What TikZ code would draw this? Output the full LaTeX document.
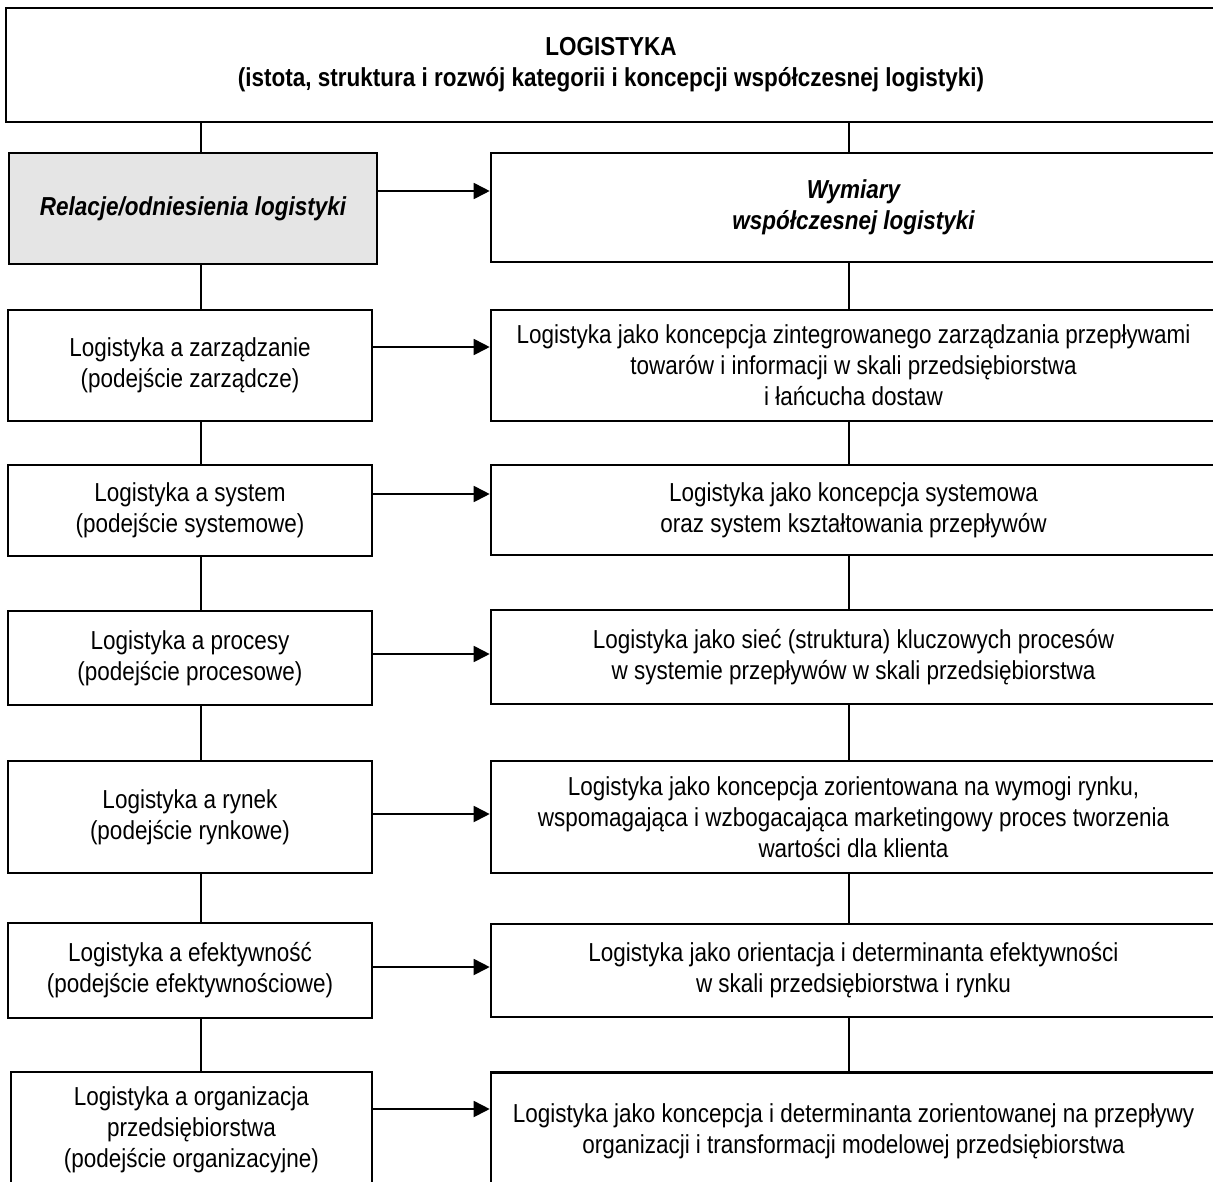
\documentclass[tikz,border=0pt]{standalone}
\usepackage{fontspec}
\setmainfont{Liberation Sans}[FakeStretch=0.865]
\usetikzlibrary{arrows.meta}

\begin{document}
\begin{tikzpicture}[x=1pt,y=-1pt,
    box/.style={draw,line width=2.6pt,align=center,inner sep=0pt,font=\fontsize{26}{31}\selectfont},
    lbox/.style={box,minimum width=364pt},
    rbox/.style={box,minimum width=725pt},
    link/.style={line width=1.8pt},
    arr/.style={line width=1.8pt,-{Triangle[length=16pt,width=16pt]}}]
        \useasboundingbox (0,0) rectangle (1213,1181);
        \clip (0,0) rectangle (1213,1181);
        \coordinate (lx) at (201,0);
        \coordinate (rx) at (849,0);
        % top
        \node[box,minimum width=1210pt,minimum height=114pt,font=\bfseries\fontsize{26}{31}\selectfont] (logistyka) at (611,65) {LOGISTYKA\\(istota, struktura i rozwój kategorii i koncepcji współczesnej logistyki)};
        % left column
        \node[lbox,minimum width=368pt,minimum height=111pt,fill=gray!20,font=\bfseries\itshape\fontsize{26}{31}\selectfont] (relacje) at (193,208.5) {Relacje/odniesienia logistyki};
        \node[lbox,minimum height=111pt] (zarz) at (190,365.5) {Logistyka a zarządzanie\\(podejście zarządcze)};
        \node[lbox,minimum height=91pt] (syst) at (190,510.5) {Logistyka a system\\(podejście systemowe)};
        \node[lbox,minimum height=94pt] (proc) at (190,658) {Logistyka a procesy\\(podejście procesowe)};
        \node[lbox,minimum height=112pt] (rynek) at (190,817) {Logistyka a rynek\\(podejście rynkowe)};
        \node[lbox,minimum height=95pt] (efekt) at (190,970.5) {Logistyka a efektywność\\(podejście efektywnościowe)};
        \node[lbox,minimum width=361pt,minimum height=116pt] (org) at (191.5,1130) {Logistyka a organizacja\\przedsiębiorstwa\\(podejście organizacyjne)};
        % right column
        \node[rbox,minimum height=109pt,font=\bfseries\itshape\fontsize{26}{31}\selectfont] (wymiary) at (853.5,207.5) {Wymiary\\współczesnej logistyki};
        \node[rbox,minimum height=111pt] (wzarz) at (853.5,365.5) {Logistyka jako koncepcja zintegrowanego zarządzania przepływami\\towarów i informacji w skali przedsiębiorstwa\\i łańcucha dostaw};
        \node[rbox,minimum height=90pt] (wsyst) at (853.5,510) {Logistyka jako koncepcja systemowa\\oraz system kształtowania przepływów};
        \node[rbox,minimum height=94pt] (wproc) at (853.5,657) {Logistyka jako sieć (struktura) kluczowych procesów\\w systemie przepływów w skali przedsiębiorstwa};
        \node[rbox,minimum height=112pt] (wrynek) at (853.5,817) {Logistyka jako koncepcja zorientowana na wymogi rynku,\\wspomagająca i wzbogacająca marketingowy proces tworzenia\\wartości dla klienta};
        \node[rbox,minimum height=93pt] (wefekt) at (853.5,970.5) {Logistyka jako orientacja i determinanta efektywności\\w skali przedsiębiorstwa i rynku};
        \node[rbox,minimum height=117pt] (worg) at (853.5,1131) {Logistyka jako koncepcja i determinanta zorientowanej na przepływy\\organizacji i transformacji modelowej przedsiębiorstwa};
        % vertical links
        \draw[link] (logistyka.south -| lx) -- (relacje.north -| lx);
        \draw[link] (relacje.south -| lx) -- (zarz.north -| lx);
        \draw[link] (zarz.south -| lx) -- (syst.north -| lx);
        \draw[link] (syst.south -| lx) -- (proc.north -| lx);
        \draw[link] (proc.south -| lx) -- (rynek.north -| lx);
        \draw[link] (rynek.south -| lx) -- (efekt.north -| lx);
        \draw[link] (efekt.south -| lx) -- (org.north -| lx);
        \draw[link] (logistyka.south -| rx) -- (wymiary.north -| rx);
        \draw[link] (wymiary.south -| rx) -- (wzarz.north -| rx);
        \draw[link] (wzarz.south -| rx) -- (wsyst.north -| rx);
        \draw[link] (wsyst.south -| rx) -- (wproc.north -| rx);
        \draw[link] (wproc.south -| rx) -- (wrynek.north -| rx);
        \draw[link] (wrynek.south -| rx) -- (wefekt.north -| rx);
        \draw[link] (wefekt.south -| rx) -- (worg.north -| rx);
        % arrows
        \draw[arr] ([yshift=17.5pt]relacje.east) -- ([yshift=17.5pt]relacje.east -| wymiary.west);
        \draw[arr] ([yshift=18.5pt]zarz.east) -- ([yshift=18.5pt]zarz.east -| wzarz.west);
        \draw[arr] ([yshift=16.5pt]syst.east) -- ([yshift=16.5pt]syst.east -| wsyst.west);
        \draw[arr] ([yshift=4pt]proc.east) -- ([yshift=4pt]proc.east -| wproc.west);
        \draw[arr] ([yshift=3pt]rynek.east) -- ([yshift=3pt]rynek.east -| wrynek.west);
        \draw[arr] ([yshift=3.5pt]efekt.east) -- ([yshift=3.5pt]efekt.east -| wefekt.west);
        \draw[arr] ([yshift=21pt]org.east) -- ([yshift=21pt]org.east -| worg.west);
    \end{tikzpicture}
\end{document}
